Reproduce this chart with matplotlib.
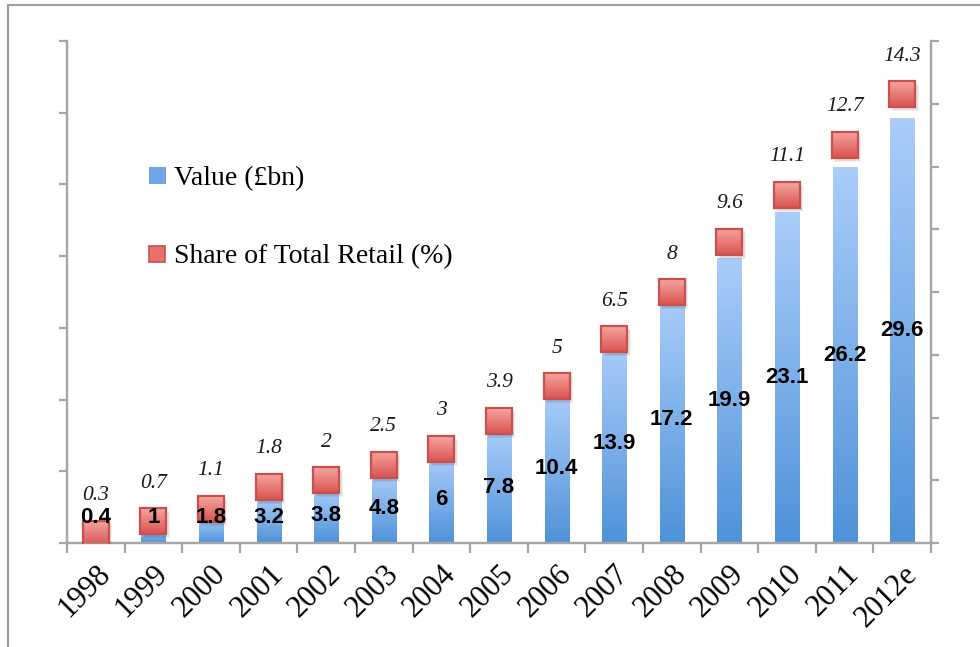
import numpy as np
import matplotlib.pyplot as plt
from matplotlib.lines import Line2D
from matplotlib.patches import Patch
from matplotlib.colors import LinearSegmentedColormap

years = ['1998', '1999', '2000', '2001', '2002', '2003', '2004', '2005',
         '2006', '2007', '2008', '2009', '2010', '2011', '2012e']
value_bn = [0.4, 1, 1.8, 3.2, 3.8, 4.8, 6, 7.8, 10.4, 13.9, 17.2, 19.9, 23.1, 26.2, 29.6]
share_pct = [0.3, 0.7, 1.1, 1.8, 2, 2.5, 3, 3.9, 5, 6.5, 8, 9.6, 11.1, 12.7, 14.3]

serif = 'Liberation Serif'
axis_col = '#a6a6a6'

fig = plt.figure(figsize=(9.8, 6.47), dpi=100)
ax = fig.add_axes([0.0684, 0.1607, 0.8816, 0.7759])
ax2 = ax.twinx()

x = np.arange(len(years))
bars = ax.bar(x, value_bn, width=0.42, color='#7fb0ec', zorder=2)

# vertical gradient inside each bar
blues = LinearSegmentedColormap.from_list('b', ['#4f92d8', '#aacdfa'])
reds = LinearSegmentedColormap.from_list('r', ['#d9534f', '#f6a5a1'])
grad = np.linspace(0, 1, 256).reshape(-1, 1)
for b in bars:
    x0, w, h = b.get_x(), b.get_width(), b.get_height()
    im = ax.imshow(grad, cmap=blues, origin='lower', aspect='auto',
                   extent=[x0, x0 + w, 0, h], zorder=2)
    im.set_clip_path(b)

ax.set_xlim(-0.5, len(years) - 0.5)
ax.set_ylim(0, 35)
ax.set_yticks(np.arange(0, 36, 5))
ax.set_yticklabels([])
ax2.set_xlim(-0.5, len(years) - 0.5)
ax2.set_ylim(0, 16)
ax2.set_yticks(np.arange(0, 17, 2))
ax2.set_yticklabels([])

# share markers: gradient square of ~26 px, converted to data units
fig.canvas.draw()
bb = ax2.get_window_extent()
half_px = 13
dx = half_px * (ax2.get_xlim()[1] - ax2.get_xlim()[0]) / bb.width
dy = half_px * (ax2.get_ylim()[1] - ax2.get_ylim()[0]) / bb.height
ax2.plot(x + 0.04, np.array(share_pct) - 0.1, 's', ms=19, color='#000000',
         alpha=0.12, mec='none', zorder=3)
for xi, s in zip(x, share_pct):
    ax2.imshow(grad, cmap=reds, origin='lower', aspect='auto',
               extent=[xi - dx, xi + dx, s - dy, s + dy], zorder=4)
ax2.plot(x, share_pct, 's', ms=18.2, mfc='none', mec='#c9504c', mew=1.6,
         zorder=5)
ax2.set_xlim(-0.5, len(years) - 0.5)
ax2.set_ylim(0, 16)
for xi, s in zip(x, share_pct):
    ax2.annotate('%g' % s, (xi, s), xytext=(0, 38), textcoords='offset pixels',
                 ha='center', va='center', fontsize=15.5, style='italic',
                 family=serif, color='#1a1a1a')

# value labels, drawn above the markers but placed on the left axis scale
for xi, v in zip(x, value_bn):
    ax2.text(xi, max(v / 2, 1.8), '%g' % v, transform=ax.transData,
             ha='center', va='center', fontsize=16, fontweight='bold',
             family='Liberation Sans', color='black', zorder=6)

# axes styling
for a in (ax, ax2):
    a.spines['top'].set_visible(False)
    for s in ('left', 'right', 'bottom'):
        a.spines[s].set_color(axis_col)
        a.spines[s].set_linewidth(1.6)
ax.tick_params(axis='y', direction='out', length=6, width=1.6, color=axis_col)
ax2.tick_params(axis='y', direction='out', length=6, width=1.6, color=axis_col)

ax.set_xticks(x)
ax.set_xticklabels(years, rotation=45, ha='right', rotation_mode='anchor',
                   family=serif, fontsize=22)
ax.tick_params(axis='x', which='major', length=0, pad=12)
ax.set_xticks(np.arange(-0.5, len(years), 1), minor=True)
ax.tick_params(axis='x', which='minor', direction='out', length=7, width=1.6,
               color=axis_col)

handles = [Patch(facecolor='#6fa6e6', edgecolor='none'),
           Line2D([], [], marker='s', ls='none', ms=12, mfc='#e8716c',
                  mec='#c9504c', mew=1.2)]
ax2.legend(handles, ['Value (£bn)', 'Share of Total Retail (%)'],
           loc='upper left', bbox_to_anchor=(0.066, 0.8), frameon=False,
           prop={'family': serif, 'size': 20}, labelspacing=1.9,
           handlelength=0.6, handleheight=0.6, handletextpad=0.3)

# outer frame
fig.add_artist(Line2D([0.008, 0.008], [0, 0.992], color='#a0a0a0', lw=1.5))
fig.add_artist(Line2D([0.008, 1], [0.992, 0.992], color='#a0a0a0', lw=1.5))

fig.savefig('out.png', dpi=100)
